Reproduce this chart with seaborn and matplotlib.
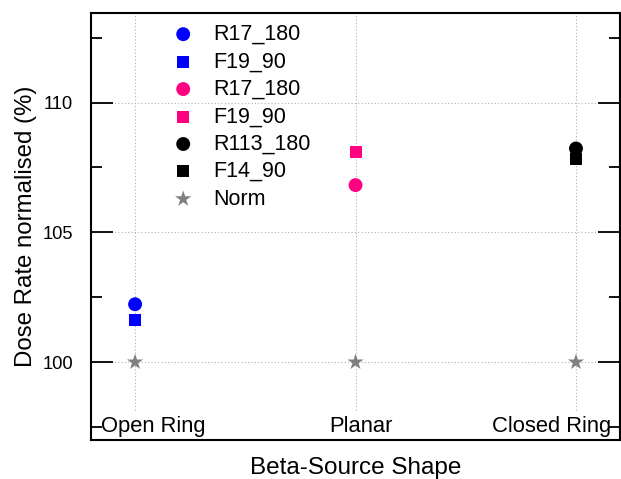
import matplotlib
matplotlib.use("Agg")
import matplotlib.pyplot as plt
import matplotlib.transforms as mtrans
import seaborn as sb
from matplotlib.ticker import MultipleLocator

# DATA
#-----------------------------------
shapes = ["Open Ring", "Planar", "Closed Ring"]

series_labels = ["R17_180", "F19_90", "R17_180", "F19_90", "R113_180", "F14_90"]
series_shape = ["Open Ring", "Open Ring", "Planar", "Planar", "Closed Ring", "Closed Ring"]
series_values = [102.23, 101.63, 106.82, 108.10, 108.23, 107.81]
series_colors = ["#0000ff", "#0000ff", "#ff0080", "#ff0080", "#000000", "#000000"]
series_markers = ["o", "s", "o", "s", "o", "s"]

norm_values = [100, 100, 100]

# PLOT
#-----------------------------------
sb.set_style("ticks")
plt.rcParams["font.family"] = ["Liberation Sans", "DejaVu Sans"]
for key in ["text.color", "axes.labelcolor", "xtick.color", "ytick.color", "axes.edgecolor"]:
    plt.rcParams[key] = "black"

fig = plt.figure(figsize=(6.21, 4.79), dpi=100)
ax = fig.add_axes([0.1465, 0.0814, 0.852, 0.8915])

for lab, shp, val, col, mk in zip(series_labels, series_shape, series_values, series_colors, series_markers):
    size = 100 if mk == "o" else 75
    sb.scatterplot(x=[shp], y=[val], color=col, marker=mk, s=size,
                   edgecolor="none", label=lab, ax=ax, zorder=3)

sb.scatterplot(x=shapes, y=norm_values, color="#808080", marker="*", s=150,
               edgecolor="none", label="Norm", ax=ax, zorder=3)

ax.set_xlim(-0.2, 2.2)
ax.set_ylim(97, 113.45)
ax.yaxis.set_major_locator(MultipleLocator(5))
ax.yaxis.set_minor_locator(MultipleLocator(2.5))

ax.grid(True, which="major", color="#b0b0b0", linestyle=(0, (1, 2)), linewidth=0.8)

ax.tick_params(axis="y", which="major", direction="in", length=16, width=1.3,
               left=True, right=True, labelsize=13.2, pad=13)
ax.tick_params(axis="y", which="minor", direction="in", length=8, width=1.3,
               left=True, right=True)
ax.tick_params(axis="x", length=0, labelsize=15.8, pad=-17)

# shift category labels so they stay inside the frame
shifts = [18, 5, -24]
for lbl, dx in zip(ax.get_xticklabels(), shifts):
    lbl.set_bbox(dict(facecolor="white", edgecolor="none", pad=4))
    lbl.set_transform(lbl.get_transform() + mtrans.ScaledTranslation(dx / 100, 0, fig.dpi_scale_trans))

for side in ["left", "bottom", "top", "right"]:
    ax.spines[side].set_linewidth(1.5)

ax.set_xlabel("Beta-Source Shape", fontsize=17.5, labelpad=12)
ax.set_ylabel("Dose Rate normalised (%)", fontsize=17.3, labelpad=4)

ax.legend(loc="upper left", bbox_to_anchor=(0.097, 1.02), frameon=False,
          fontsize=15.5, handletextpad=0.4, labelspacing=0.3, markerscale=1.0)

plt.savefig("out.png", dpi=100)
